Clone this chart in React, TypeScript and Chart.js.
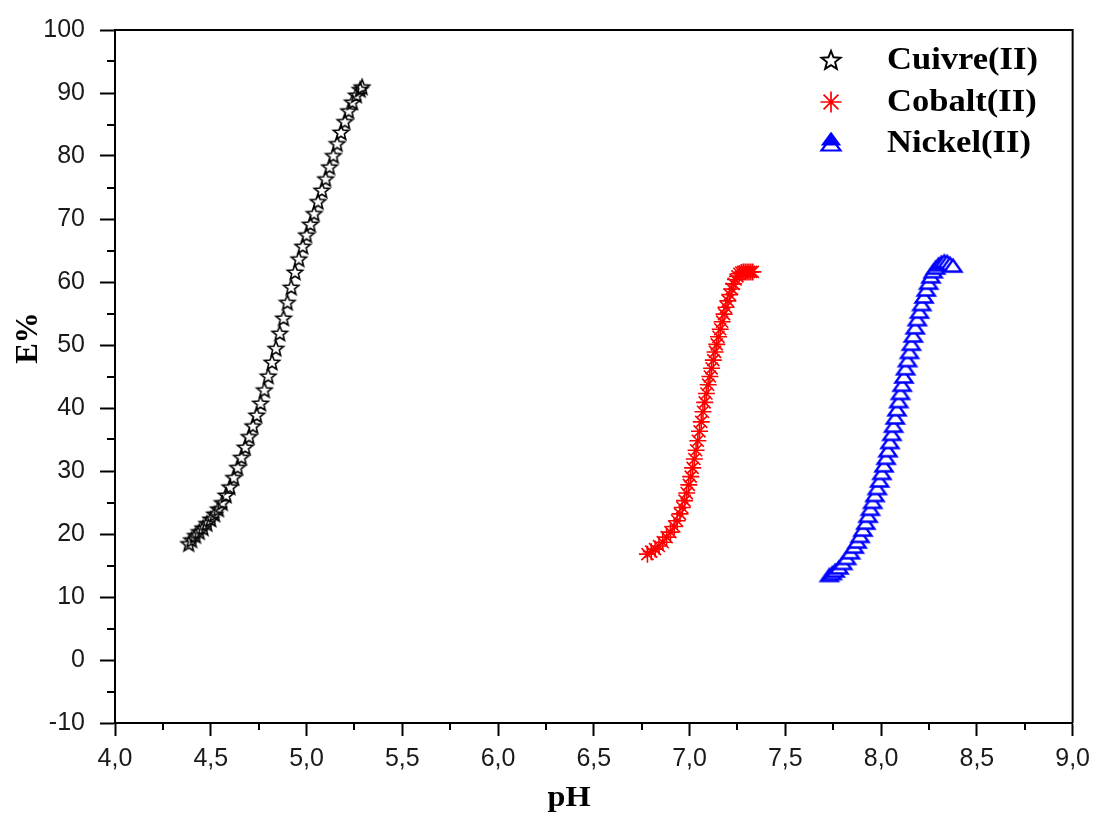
import React, { useEffect, useRef } from 'react';
import { Chart, registerables } from 'chart.js';

Chart.register(...registerables);

// ---------- DATA ----------
const seriesNames = ['Cuivre(II)', 'Cobalt(II)', 'Nickel(II)'];

const cuivrePH = [
  4.385, 4.40, 4.42, 4.44, 4.46, 4.48, 4.50, 4.52, 4.54, 4.56, 4.58, 4.60, 4.62, 4.64, 4.66, 4.68,
  4.70, 4.72, 4.74, 4.76, 4.78, 4.80, 4.82, 4.84, 4.86, 4.88, 4.90, 4.92, 4.94, 4.96, 4.98, 5.00,
  5.02, 5.04, 5.06, 5.08, 5.10, 5.12, 5.14, 5.16, 5.18, 5.20, 5.22, 5.24, 5.26, 5.28, 5.29,
];
const cuivreE = [
  18.5, 19.1, 19.8, 20.4, 21.0, 21.7, 22.4, 23.2, 24.0, 25.0, 26.2, 27.5, 29.0, 30.6, 32.2, 33.8,
  35.5, 37.2, 38.9, 40.8, 42.9, 45.1, 47.3, 49.5, 51.9, 54.3, 56.8, 59.2, 61.6, 63.7, 65.7, 67.5,
  69.2, 70.9, 72.8, 74.6, 76.4, 78.3, 80.1, 82.0, 83.8, 85.5, 87.2, 88.6, 89.7, 90.6, 91.0,
];

const cobaltPH = [
  6.78, 6.80, 6.82, 6.84, 6.86, 6.88, 6.90, 6.92, 6.935, 6.95, 6.962, 6.974, 6.985, 6.996, 7.006,
  7.016, 7.025, 7.034, 7.043, 7.052, 7.061, 7.07, 7.079, 7.088, 7.097, 7.106, 7.115, 7.124, 7.133,
  7.142, 7.151, 7.16, 7.17, 7.18, 7.19, 7.20, 7.21, 7.22, 7.23, 7.24, 7.25, 7.26, 7.27, 7.28, 7.29,
  7.30, 7.31, 7.32, 7.33,
];
const cobaltE = [
  16.8, 17.2, 17.6, 18.1, 18.7, 19.5, 20.3, 21.2, 22.1, 23.2, 24.2, 25.3, 26.5, 27.8, 29.1,
  30.5, 31.9, 33.3, 34.8, 36.3, 37.8, 39.4, 40.9, 42.3, 43.7, 45.0, 46.3, 47.6, 48.9,
  50.1, 51.3, 52.5, 53.7, 54.9, 56.0, 57.0, 58.0, 58.9, 59.7, 60.4, 60.9, 61.3, 61.5, 61.6, 61.6,
  61.6, 61.6, 61.6, 61.6,
];

const nickelPH = [
  7.73, 7.745, 7.76, 7.78, 7.80, 7.82, 7.84, 7.86, 7.875, 7.89, 7.905, 7.92, 7.932, 7.944, 7.956,
  7.968, 7.98, 7.992, 8.004, 8.015, 8.026, 8.036, 8.046, 8.056, 8.065, 8.074, 8.083, 8.092, 8.101,
  8.11, 8.119, 8.128, 8.138, 8.148, 8.158, 8.168, 8.178, 8.189, 8.20, 8.212, 8.224, 8.236, 8.248,
  8.26, 8.272, 8.285, 8.30, 8.315, 8.33, 8.345, 8.36, 8.375,
];
const nickelE = [
  13.5, 13.8, 14.2, 14.7, 15.4, 16.2, 17.1, 18.0, 18.8, 19.7, 20.7, 21.8, 22.9, 24.0, 25.1,
  26.2, 27.3, 28.5, 29.7, 30.9, 32.1, 33.3, 34.6, 35.9, 37.2, 38.5, 39.8, 41.1, 42.4,
  43.7, 45.0, 46.3, 47.6, 48.9, 50.2, 51.5, 52.8, 54.1, 55.3, 56.5, 57.7, 58.8, 59.9,
  60.9, 61.7, 62.3, 62.8, 63.1, 63.3, 63.2, 62.9, 62.6,
];

const xMin = 4, xMax = 9, xStep = 0.5;
const yMin = -10, yMax = 100, yStep = 10;
const xTitle = 'pH';
const yTitle = 'E%';

// ---------- marker images ----------
function starCanvas(size: number, outer: number, inner: number, lw: number, fill: string | null) {
  const c = document.createElement('canvas');
  c.width = size; c.height = size;
  const g = c.getContext('2d')!;
  const cx = size / 2, cy = size / 2 + 0.8;
  g.beginPath();
  for (let i = 0; i < 10; i++) {
    const r = i % 2 === 0 ? outer : inner;
    const a = -Math.PI / 2 + (i * Math.PI) / 5;
    g.lineTo(cx + r * Math.cos(a), cy + r * Math.sin(a));
  }
  g.closePath();
  if (fill) {
    g.fillStyle = fill;
    g.fill();
  }
  g.strokeStyle = '#000';
  g.lineWidth = lw;
  g.lineJoin = 'miter';
  g.stroke();
  return c;
}

function triPath(g: CanvasRenderingContext2D, cx: number, cy: number, w: number, h: number) {
  g.beginPath();
  g.moveTo(cx, cy - h / 2);
  g.lineTo(cx + w / 2, cy + h / 2);
  g.lineTo(cx - w / 2, cy + h / 2);
  g.closePath();
}

function triCanvas(w: number, h: number, lw: number) {
  const c = document.createElement('canvas');
  c.width = Math.ceil(w + lw * 2 + 2);
  c.height = Math.ceil(h + lw * 2 + 2);
  const g = c.getContext('2d')!;
  triPath(g, c.width / 2, c.height / 2, w, h);
  g.fillStyle = '#fff';
  g.fill();
  g.strokeStyle = '#0000ff';
  g.lineWidth = lw;
  g.stroke();
  return c;
}

const decorPlugin = {
  id: 'decor',
  afterDraw(chart: any) {
    const ctx: CanvasRenderingContext2D = chart.ctx;
    const { left, right, top, bottom } = chart.chartArea;
    const xs = chart.scales.x;
    const ys = chart.scales.y;
    ctx.save();
    // frame (top / right)
    ctx.strokeStyle = '#000';
    ctx.lineWidth = 2;
    ctx.beginPath();
    ctx.moveTo(left - 1, top);
    ctx.lineTo(right, top);
    ctx.lineTo(right, bottom);
    ctx.stroke();
    // minor ticks
    ctx.beginPath();
    for (let v = xMin + xStep / 2; v < xMax; v += xStep) {
      const px = Math.round(xs.getPixelForValue(v));
      ctx.moveTo(px, bottom);
      ctx.lineTo(px, bottom + 7);
    }
    for (let v = yMin + yStep / 2; v < yMax; v += yStep) {
      const py = Math.round(ys.getPixelForValue(v));
      ctx.moveTo(left, py);
      ctx.lineTo(left - 8, py);
    }
    ctx.stroke();

    const serif = '"Liberation Serif", "Times New Roman", serif';
    // axis titles
    ctx.fillStyle = '#000';
    ctx.font = `bold 31px ${serif}`;
    ctx.textAlign = 'center';
    ctx.textBaseline = 'alphabetic';
    ctx.save();
    ctx.translate(37, 338);
    ctx.rotate(-Math.PI / 2);
    ctx.fillText(yTitle, 0, 0);
    ctx.restore();
    ctx.save();
    ctx.font = `bold 29px ${serif}`;
    const pw = ctx.measureText(xTitle).width;
    const ps = 43 / pw;
    ctx.translate(569, 806);
    ctx.scale(ps, 1);
    ctx.fillText(xTitle, 0, 0);
    ctx.restore();

    // legend
    const mx = 831;
    const rows = [60, 102, 142];
    const bases = [69, 111, 152];
    // star
    const st = starCanvas(26, 10, 4.3, 1.9, '#fff');
    ctx.drawImage(st, mx - 13, rows[0] - 13);
    // asterisk
    ctx.strokeStyle = '#ff0000';
    ctx.lineWidth = 1.7;
    ctx.beginPath();
    const r = 10.5;
    for (let i = 0; i < 4; i++) {
      const a = (i * Math.PI) / 4;
      ctx.moveTo(mx - r * Math.cos(a), rows[1] - r * Math.sin(a));
      ctx.lineTo(mx + r * Math.cos(a), rows[1] + r * Math.sin(a));
    }
    ctx.stroke();
    // triangle (two stacked)
    ctx.lineWidth = 2.2;
    ctx.strokeStyle = '#0000ff';
    ctx.fillStyle = '#fff';
    triPath(ctx, mx, rows[2] + 2, 19, 13);
    ctx.fill(); ctx.stroke();
    ctx.fillStyle = '#0000ff';
    triPath(ctx, mx, rows[2] - 3, 16, 11);
    ctx.fill(); ctx.stroke();
    // legend text
    ctx.fillStyle = '#000';
    ctx.textAlign = 'left';
    ctx.font = `bold 31px ${serif}`;
    const w0 = ctx.measureText(seriesNames[0]).width;
    const sx = 151 / w0;
    seriesNames.forEach((n, i) => {
      ctx.save();
      ctx.translate(887, bases[i]);
      ctx.scale(sx, 1);
      ctx.fillText(n, 0, 0);
      ctx.restore();
    });
    ctx.restore();
  },
};

export default function App() {
  const ref = useRef<HTMLCanvasElement | null>(null);

  useEffect(() => {
    document.body.style.margin = '0';
    const canvas = ref.current!;
    const starImg = starCanvas(20, 8, 3.5, 1.6, null);
    const triImg = triCanvas(17, 12, 2.4);

    const chart = new Chart(canvas, {
      type: 'scatter',
      data: {
        datasets: [
          {
            label: seriesNames[0],
            data: cuivrePH.map((x, i) => ({ x, y: cuivreE[i] })),
            pointStyle: starImg as any,
            pointRadius: 8,
            borderColor: '#000',
            backgroundColor: '#fff',
            showLine: false,
          },
          {
            label: seriesNames[1],
            data: cobaltPH.map((x, i) => ({ x, y: cobaltE[i] })),
            pointStyle: 'star',
            pointRadius: 8.5,
            borderWidth: 1.6,
            borderColor: '#ff0000',
            backgroundColor: '#ff0000',
            showLine: false,
          },
          {
            label: seriesNames[2],
            data: nickelPH.map((x, i) => ({ x, y: nickelE[i] })),
            pointStyle: triImg as any,
            pointRadius: 8,
            borderColor: '#0000ff',
            backgroundColor: '#fff',
            showLine: false,
          },
        ],
      },
      options: {
        responsive: false,
        animation: false,
        devicePixelRatio: 1,
        layout: { padding: { top: 27, right: 23, left: 0, bottom: 0 } },
        plugins: {
          legend: { display: false },
          tooltip: { enabled: false },
        },
        scales: {
          x: {
            type: 'linear',
            min: xMin,
            max: xMax,
            afterFit: (s: any) => { s.height = 93; },
            ticks: {
              stepSize: xStep,
              autoSkip: false,
              maxRotation: 0,
              padding: 8,
              color: '#1a1a1a',
              font: { family: '"Liberation Sans", Arial, sans-serif', size: 25 },
              callback: (v: any) => Number(v).toFixed(1).replace('.', ','),
            },
            grid: { drawOnChartArea: false, drawTicks: true, tickLength: 13, tickWidth: 2, tickColor: '#000' },
            border: { display: true, color: '#000', width: 2 },
          },
          y: {
            type: 'linear',
            min: yMin,
            max: yMax,
            afterFit: (s: any) => { s.width = 115; },
            ticks: {
              stepSize: yStep,
              padding: 15,
              color: '#1a1a1a',
              font: { family: '"Liberation Sans", Arial, sans-serif', size: 25 },
              callback: (v: any) => String(v),
            },
            grid: { drawOnChartArea: false, drawTicks: true, tickLength: 15, tickWidth: 2, tickColor: '#000' },
            border: { display: true, color: '#000', width: 2 },
          },
        },
      },
      plugins: [decorPlugin],
    });
    return () => chart.destroy();
  }, []);

  return (
    <div style={{ width: 1098, height: 816 }}>
      <canvas ref={ref} width={1098} height={816} style={{ display: 'block' }} />
    </div>
  );
}
